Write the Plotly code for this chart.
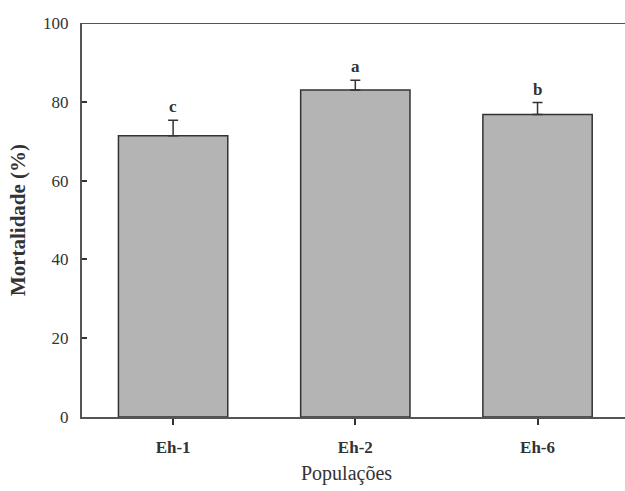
import plotly.graph_objects as go

populacoes = ["Eh-1", "Eh-2", "Eh-6"]
mortalidade = [71.4, 83.0, 76.8]
erro = [3.9, 2.5, 3.0]
letras = ["c", "a", "b"]
y_ticks = [0, 20, 40, 60, 80, 100]

FONT = "Liberation Serif"
INK = "#333333"

fig = go.Figure()
fig.add_trace(go.Bar(
    x=populacoes, y=mortalidade, width=0.6,
    marker=dict(color="#b4b4b4", line=dict(color=INK, width=1.5)),
    error_y=dict(type="data", array=erro, arrayminus=[0] * len(erro),
                 symmetric=False, color=INK, thickness=1.5, width=5),
    showlegend=False, hoverinfo="skip",
))

for cat, m, e, l in zip(populacoes, mortalidade, erro, letras):
    fig.add_annotation(x=cat, y=m + e, text=f"<b>{l}</b>", showarrow=False,
                       yanchor="bottom", yshift=2,
                       font=dict(family=FONT, size=17, color=INK))

# top frame line (right side of the original frame is cropped away)
fig.add_shape(type="line", xref="paper", yref="y", x0=0, x1=1, y0=100, y1=100,
              line=dict(color="#555555", width=2))

fig.add_annotation(xref="paper", yref="paper", x=0.488, y=0, yshift=-56,
                   yanchor="middle", showarrow=False, text="Populações",
                   font=dict(family=FONT, size=20, color=INK))

fig.update_layout(
    width=625, height=491,
    margin=dict(l=82, r=0, t=23, b=74),
    plot_bgcolor="white", paper_bgcolor="white",
    font=dict(family=FONT, color=INK),
    bargap=0.4,
)
fig.update_xaxes(
    type="category", range=[-0.5, 2.48],
    showline=True, linecolor="#555555", linewidth=2, mirror=False,
    ticks="outside", ticklen=6, tickwidth=1.5, tickcolor=INK,
    tickfont=dict(family=FONT, size=17, color=INK),
    tickprefix="<b>", ticksuffix="</b>",
    ticklabelstandoff=8,
    showgrid=False, zeroline=False,
)
fig.update_yaxes(
    range=[0, 100], tickvals=y_ticks,
    showline=True, linecolor="#555555", linewidth=2, mirror=False,
    ticks="inside", ticklen=5, tickwidth=1.5, tickcolor=INK,
    tickfont=dict(family=FONT, size=17, color=INK),
    tickprefix="<b>", ticksuffix="</b>",
    ticklabelstandoff=8,
    showgrid=False, zeroline=False,
    title=dict(text="<b>Mortalidade (%)</b>", font=dict(family=FONT, size=21, color=INK), standoff=12),
)

fig.write_html("out.html", config={"displayModeBar": False},
               post_script="document.body.style.margin='0';")
